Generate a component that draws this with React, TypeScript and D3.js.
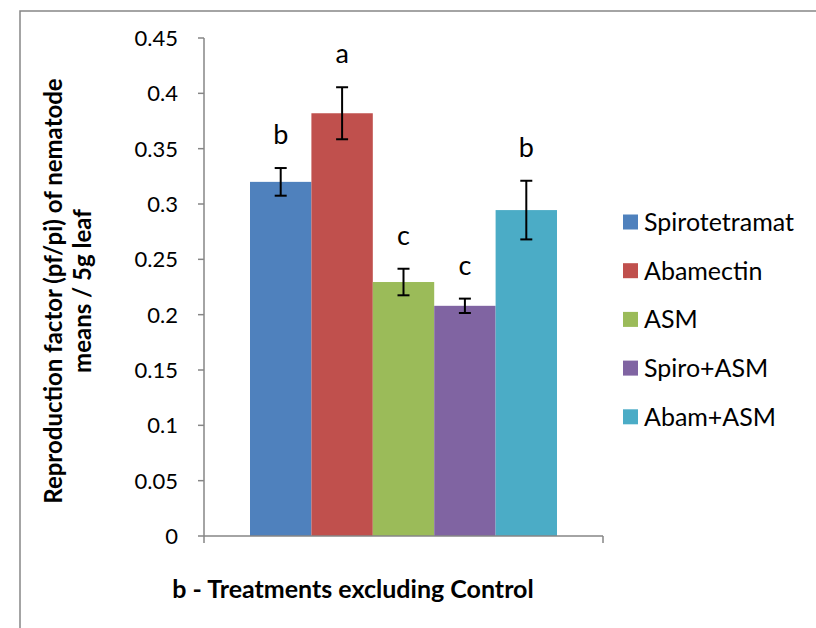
import React from "react";
import * as d3 from "d3";

const seriesNames = ["Spirotetramat", "Abamectin", "ASM", "Spiro+ASM", "Abam+ASM"];
const seriesValues = [0.320, 0.382, 0.2295, 0.208, 0.2945];
const seriesErrors = [0.0125, 0.0235, 0.012, 0.0065, 0.0265];
const sigLetters = ["b", "a", "c", "c", "b"];
const seriesColors = ["#4F81BD", "#C0504D", "#9BBB59", "#8064A2", "#4BACC6"];
const yTicks = [0, 0.05, 0.1, 0.15, 0.2, 0.25, 0.3, 0.35, 0.4, 0.45];
const yTitleLines = ["Reproduction factor (pf/pi) of nematode", "means / 5g leaf"];
const xTitle = "b - Treatments excluding Control";

const W = 816;
const H = 628;
const FONT = "Lato, 'Open Sans', sans-serif";

export default function App() {
  const plotL = 204, plotR = 603, plotT = 38, plotB = 536;
  const y = d3.scaleLinear().domain([0, 0.45]).range([plotB, plotT]);
  const x = d3.scaleBand<string>().domain(seriesNames).range([250, 557]).paddingInner(0).paddingOuter(0);
  const axisColor = "#868686";
  const fmt = (v: number) => (v === 0 ? "0" : d3.format("")(+v.toFixed(2)));

  return (
    <svg width={W} height={H} style={{ position: "absolute", left: 0, top: 0, background: "#fff" }} fontFamily={FONT}>
      <rect x={0} y={0} width={W} height={H} fill="#fff" />
      {/* outer chart border (top & left visible) */}
      <rect x={20} y={11} width={W + 20} height={H + 20} fill="none" stroke={axisColor} strokeWidth={1.5} />

      {/* bars */}
      {seriesNames.map((s, i) => (
        <rect key={s} x={x(s)} y={y(seriesValues[i])} width={x.bandwidth()} height={plotB - y(seriesValues[i])} fill={seriesColors[i]} />
      ))}

      {/* axes */}
      <line x1={plotL} x2={plotL} y1={plotT} y2={plotB} stroke={axisColor} strokeWidth={1.5} />
      <line x1={plotL} x2={plotR} y1={plotB} y2={plotB} stroke={axisColor} strokeWidth={1.5} />
      {yTicks.map((t) => (
        <g key={t}>
          <line x1={plotL - 6} x2={plotL} y1={y(t)} y2={y(t)} stroke={axisColor} strokeWidth={1.5} />
          <text x={178} y={y(t)} dy="0.36em" textAnchor="end" fontSize={22} fill="#000">{fmt(t)}</text>
        </g>
      ))}
      <line x1={plotL} x2={plotL} y1={plotB} y2={plotB + 7} stroke={axisColor} strokeWidth={1.5} />
      <line x1={plotR} x2={plotR} y1={plotB} y2={plotB + 7} stroke={axisColor} strokeWidth={1.5} />

      {/* error bars */}
      {seriesNames.map((s, i) => {
        const cx = (x(s) as number) + x.bandwidth() / 2;
        const top = y(seriesValues[i] + seriesErrors[i]);
        const bot = y(seriesValues[i] - seriesErrors[i]);
        return (
          <g key={s} stroke="#000" strokeWidth={2}>
            <line x1={cx} x2={cx} y1={top} y2={bot} />
            <line x1={cx - 6} x2={cx + 6} y1={top} y2={top} />
            <line x1={cx - 6} x2={cx + 6} y1={bot} y2={bot} />
          </g>
        );
      })}

      {/* significance letters */}
      {seriesNames.map((s, i) => {
        const cx = (x(s) as number) + x.bandwidth() / 2;
        const top = y(seriesValues[i] + seriesErrors[i]);
        return (
          <text key={s} x={cx} y={top - 24} textAnchor="middle" fontSize={27} fill="#000">{sigLetters[i]}</text>
        );
      })}

      {/* y title */}
      <g transform={`translate(62, 291) rotate(-90)`}>
        <text x={0} y={0} textAnchor="middle" fontSize={24} fontWeight="bold" fill="#000">{yTitleLines[0]}</text>
        <text x={0} y={29} textAnchor="middle" fontSize={24} fontWeight="bold" fill="#000">{yTitleLines[1]}</text>
      </g>

      {/* x title */}
      <text x={353} y={598} textAnchor="middle" fontSize={25} fontWeight="bold" fill="#000">{xTitle}</text>

      {/* legend */}
      {seriesNames.map((s, i) => {
        const cy = 222 + i * 48.7;
        return (
          <g key={s}>
            <rect x={623} y={cy - 7.5} width={15} height={15} fill={seriesColors[i]} />
            <text x={644} y={cy} dy="0.36em" fontSize={25} fill="#000">{s}</text>
          </g>
        );
      })}
    </svg>
  );
}
